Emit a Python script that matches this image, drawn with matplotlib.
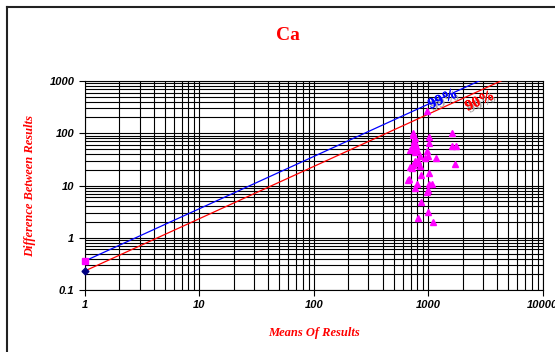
import matplotlib
matplotlib.use('Agg')
import matplotlib.pyplot as plt
import matplotlib.patheffects as pe
from matplotlib.lines import Line2D
import numpy as np

# Means of results (x) and differences between results (y), Ca
means = [977, 736, 740, 760, 745, 770, 730, 780, 750, 715, 690, 800, 760,
         1016, 1016, 977, 1600, 1620, 1760, 1720,
         845, 935, 995, 1170, 760, 780, 730, 693, 715, 820, 850,
         860, 1010, 680, 665, 797, 1016, 1075, 760, 990, 975, 860, 995, 808, 1100]
diffs = [265, 103, 92, 80, 72, 65, 60, 57, 53, 50, 48, 47, 43,
         83, 66, 46, 99, 56, 56, 26,
         37, 34, 37, 34, 30, 27, 25, 23, 22, 29, 24,
         16, 17.7, 13.2, 12.7, 10.6, 10.9, 10.6, 9.1, 8.2, 7.6, 4.9, 3.05, 2.38, 1.96]

# limit lines (difference = factor * mean)
limit_x = [1, 10000]
factor_99 = 0.36
factor_90 = 0.232

x_ticks = [1, 10, 100, 1000, 10000]
x_labels = ['1', '10', '100', '1000', '10000']
y_ticks = [0.1, 1, 10, 100, 1000]
y_labels = ['0.1', '1', '10', '100', '1000']

fig = plt.figure(figsize=(5.55, 3.52), dpi=100)
ax = fig.add_axes([0.153, 0.176, 0.825, 0.594])

# outer frame (left and top edges only visible)
fig.add_artist(Line2D([0.0135, 0.0135], [0, 0.98], transform=fig.transFigure, color='#222222', lw=1.5))
fig.add_artist(Line2D([0.0135, 1.0], [0.98, 0.98], transform=fig.transFigure, color='#222222', lw=1.5))

ax.set_xscale('log')
ax.set_yscale('log')
ax.set_xlim(1, 10000)
ax.set_ylim(0.1, 1000)

ax.grid(True, which='both', color='black', linewidth=0.8)
ax.set_axisbelow(True)

lx = np.array(limit_x, dtype=float)
ax.plot(lx, factor_99 * lx, color='blue', lw=0.9, zorder=3)
ax.plot(lx, factor_90 * lx, color='red', lw=0.9, zorder=3)
ax.plot([1], [factor_99], marker='s', color='magenta', ms=5, clip_on=False, zorder=5)
ax.plot([1], [factor_90], marker='D', color='navy', ms=3.5, clip_on=False, zorder=5)

ax.plot(means, diffs, linestyle='none', marker='^', color='magenta', ms=5, zorder=4)

# 99% / 90% labels with grey drop shadow
shadow = [pe.withSimplePatchShadow(offset=(1.5, -1.5), shadow_rgbFace='#a0a0a0', alpha=0.9),
          pe.Normal()]
lbl = dict(rotation=24.5, fontsize=11, fontweight='bold', family='Liberation Serif',
           ha='center', va='center', zorder=5, path_effects=shadow)
ax.text(1340, 440, '99%', color='blue', **lbl)
ax.text(2820, 405, '90%', color='red', **lbl)

ax.set_xticks(x_ticks)
ax.set_xticklabels(x_labels)
ax.set_yticks(y_ticks)
ax.set_yticklabels(y_labels)
ax.minorticks_on()
ax.tick_params(which='minor', length=0)
ax.tick_params(which='major', length=4, width=0.8, direction='out')
for lab in ax.get_xticklabels() + ax.get_yticklabels():
    lab.set_family('Liberation Sans')
    lab.set_fontweight('bold')
    lab.set_fontstyle('italic')
    lab.set_fontsize(8)

for s in ax.spines.values():
    s.set_color('black')
    s.set_linewidth(0.8)

ax.set_xlabel('Means Of Results', color='red', fontsize=9, fontweight='bold',
              fontstyle='italic', family='Liberation Serif', labelpad=12)
ax.set_ylabel('Difference Between Results', color='red', fontsize=9, fontweight='bold',
              fontstyle='italic', family='Liberation Serif', labelpad=10)

fig.text(0.519, 0.9, 'Ca', color='red', fontsize=14, fontweight='bold',
         family='Liberation Serif', ha='center', va='center')

fig.savefig('out.png', dpi=100)
